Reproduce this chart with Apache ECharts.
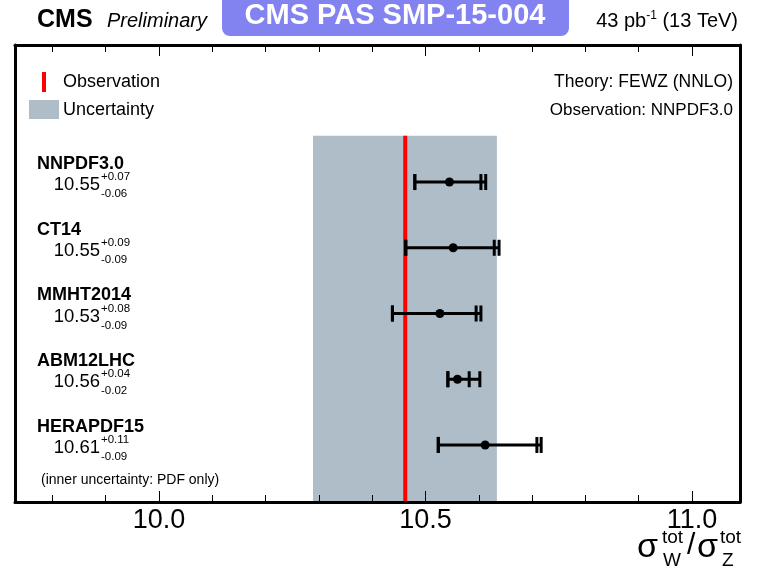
<!DOCTYPE html>
<html><head><meta charset="utf-8">
<script src="https://cdn.jsdelivr.net/npm/echarts@6/dist/echarts.min.js"></script>
<style>html,body{margin:0;padding:0;background:#fff}#c{width:762px;height:568px}</style>
</head><body><div id="c"></div>
<script>
// ---- data ----
const pdfSets     = ['NNPDF3.0', 'CT14', 'MMHT2014', 'ABM12LHC', 'HERAPDF15'];
const central     = [10.545, 10.552, 10.527, 10.560, 10.612];
const totalLow    = [10.480, 10.463, 10.438, 10.542, 10.524];
const totalHigh   = [10.613, 10.638, 10.604, 10.602, 10.717];
const pdfLow      = [10.480, 10.463, 10.438, 10.542, 10.524];
const pdfHigh     = [10.604, 10.629, 10.595, 10.582, 10.709];
const valueLabels = ['10.55', '10.55', '10.53', '10.56', '10.61'];
const plusLabels  = ['+0.07', '+0.09', '+0.08', '+0.04', '+0.11'];
const minusLabels = ['-0.06', '-0.09', '-0.09', '-0.02', '-0.09'];
const observation = 10.462;
const bandLow = 10.289;
const bandHigh = 10.634;
const xMin = 9.73, xMax = 11.09;
const majorTicks = [10.0, 10.5, 11.0];
const minorTicks = [9.8, 9.9, 10.0, 10.1, 10.2, 10.3, 10.4, 10.5, 10.6, 10.7, 10.8, 10.9, 11.0];

// ---- layout constants (row units on the hidden y axis) ----
const yMinRow = -1.085, yMaxRow = 5.868, bandTopRow = 0.295;
const FONT = "'Liberation Sans', Arial, sans-serif";

const rows = pdfSets.map((n, i) => [i + 1, central[i], totalLow[i], totalHigh[i], pdfLow[i], pdfHigh[i], i]);

const chart = echarts.init(document.getElementById('c'), null, {renderer: 'canvas'});

function xAxisBase(pos, ticks, len, withLine, withLabels) {
  return {
    type: 'value', gridIndex: 0, position: pos, min: xMin, max: xMax, z: 10,
    axisLine: {show: withLine, onZero: false, lineStyle: {color: '#000', width: 3}},
    axisTick: {show: true, inside: true, length: len, customValues: ticks, lineStyle: {color: '#000', width: 1}},
    axisLabel: withLabels ? {show: true, customValues: majorTicks, formatter: v => v.toFixed(1), color: '#000', fontSize: 27, fontFamily: FONT, margin: 5} : {show: false},
    splitLine: {show: false}
  };
}
function yAxisBase(pos) {
  return {
    type: 'value', position: pos, min: yMinRow, max: yMaxRow, inverse: true, z: 10,
    axisLine: {show: true, onZero: false, lineStyle: {color: '#000', width: 3}},
    axisTick: {show: false}, axisLabel: {show: false}, splitLine: {show: false}
  };
}

const option = {
  animation: false,
  backgroundColor: '#fff',
  grid: {left: 15, right: 22, top: 45, bottom: 66, containLabel: false},
  xAxis: [
    xAxisBase('bottom', minorTicks, 7, true, true),
    xAxisBase('bottom', majorTicks, 11, false, false),
    xAxisBase('top', minorTicks, 7, true, false),
    xAxisBase('top', majorTicks, 11, false, false)
  ],
  yAxis: [yAxisBase('left'), yAxisBase('right')],
  series: [
    {
      type: 'custom', name: 'band', xAxisIndex: 0, yAxisIndex: 0,
      data: [[observation, bandLow, bandHigh]],
      encode: {x: [0, 1, 2]},
      renderItem(params, api) {
        const p1 = api.coord([api.value(1), bandTopRow]);
        const p2 = api.coord([api.value(2), yMaxRow]);
        const o1 = api.coord([api.value(0), bandTopRow]);
        const o2 = api.coord([api.value(0), yMaxRow]);
        return {type: 'group', children: [
          {type: 'rect', shape: {x: p1[0], y: p1[1], width: p2[0] - p1[0], height: p2[1] - p1[1]}, style: {fill: '#aebdc8'}},
          {type: 'line', shape: {x1: o1[0], y1: o1[1], x2: o2[0], y2: o2[1]}, style: {stroke: '#ff0000', lineWidth: 4}}
        ]};
      }
    },
    {
      type: 'custom', name: 'predictions', xAxisIndex: 0, yAxisIndex: 0,
      data: rows,
      encode: {x: [1, 2, 3, 4, 5], y: 0},
      renderItem(params, api) {
        const r = api.value(0);
        const y = api.coord([xMin, r])[1];
        const X = v => api.coord([v, r])[0];
        const xc = X(api.value(1)), xl = X(api.value(2)), xh = X(api.value(3)), pl = X(api.value(4)), ph = X(api.value(5));
        const st = {stroke: '#000', lineWidth: 3};
        const cap = x => ({type: 'line', shape: {x1: x, y1: y - 8, x2: x, y2: y + 8}, style: st});
        return {type: 'group', children: [
          {type: 'line', shape: {x1: xl, y1: y, x2: xh, y2: y}, style: st},
          cap(xl), cap(xh), cap(pl), cap(ph),
          {type: 'circle', shape: {cx: xc, cy: y, r: 4.5}, style: {fill: '#000'}}
        ]};
      }
    },
    {
      type: 'custom', name: 'labels', xAxisIndex: 0, yAxisIndex: 0, clip: false, silent: true,
      data: rows.map(r => [r[0], r[6]]),
      encode: {y: 0},
      renderItem(params, api) {
        const r = api.value(0);
        const i = api.value(1);
        const y = api.coord([xMin, r])[1];
        const t = (text, x, yy, font, align) => ({type: 'text', x: x, y: yy,
          style: {text: text, font: font, fill: '#000', align: align || 'left', verticalAlign: 'middle', textAlign: align || 'left', textVerticalAlign: 'middle'}});
        return {type: 'group', children: [
          t(pdfSets[i], 37, y - 18, 'bold 18px ' + FONT),
          t(valueLabels[i], 100, y + 3, '18.5px ' + FONT, 'right'),
          t(plusLabels[i], 101, y - 5, '11.5px ' + FONT),
          t(minusLabels[i], 101, y + 12, '11.5px ' + FONT)
        ]};
      }
    }
  ],
  graphic: [
    // header
    {type: 'rect', shape: {x: 222, y: -10, width: 347, height: 46, r: 8}, style: {fill: '#8282f0'}},
    {type: 'text', x: 395, y: 16, style: {text: 'CMS PAS SMP-15-004', font: 'bold 29px ' + FONT, fill: '#fff', align: 'center', verticalAlign: 'middle', textAlign: 'center', textVerticalAlign: 'middle'}},
    {type: 'text', x: 37, y: 20, style: {text: 'CMS', font: 'bold 25px ' + FONT, fill: '#000', verticalAlign: 'middle', textVerticalAlign: 'middle'}},
    {type: 'text', x: 107, y: 21, style: {text: 'Preliminary', font: 'italic 20px ' + FONT, fill: '#000', verticalAlign: 'middle', textVerticalAlign: 'middle'}},
    {type: 'text', x: 738, y: 21, style: {
      text: '{a|43 pb}{s|-1}{a| (13 TeV)}', align: 'right', textAlign: 'right', verticalAlign: 'middle', textVerticalAlign: 'middle',
      rich: {a: {font: '20px ' + FONT, fill: '#000', color: '#000', lineHeight: 22}, s: {font: '12px ' + FONT, fill: '#000', color: '#000', verticalAlign: 'top', lineHeight: 12}}
    }},
    // legend
    {type: 'rect', shape: {x: 42, y: 72, width: 4, height: 20}, style: {fill: '#ff0000'}},
    {type: 'text', x: 63, y: 82, style: {text: 'Observation', font: '18px ' + FONT, fill: '#000', verticalAlign: 'middle', textVerticalAlign: 'middle'}},
    {type: 'rect', shape: {x: 29, y: 100, width: 30, height: 19}, style: {fill: '#aebdc8'}},
    {type: 'text', x: 63, y: 110, style: {text: 'Uncertainty', font: '18px ' + FONT, fill: '#000', verticalAlign: 'middle', textVerticalAlign: 'middle'}},
    {type: 'text', x: 733, y: 82, style: {text: 'Theory: FEWZ (NNLO)', font: '17.5px ' + FONT, fill: '#000', align: 'right', textAlign: 'right', verticalAlign: 'middle', textVerticalAlign: 'middle'}},
    {type: 'text', x: 733, y: 110, style: {text: 'Observation: NNPDF3.0', font: '17px ' + FONT, fill: '#000', align: 'right', textAlign: 'right', verticalAlign: 'middle', textVerticalAlign: 'middle'}},
    {type: 'text', x: 41, y: 480, style: {text: '(inner uncertainty: PDF only)', font: '14px ' + FONT, fill: '#000', verticalAlign: 'middle', textVerticalAlign: 'middle'}},
    // axis title
    {type: 'text', x: 637, y: 548, style: {text: 'σ', font: '34px ' + FONT, fill: '#000', verticalAlign: 'middle', textVerticalAlign: 'middle'}},
    {type: 'text', x: 662, y: 538, style: {text: 'tot', font: '19px ' + FONT, fill: '#000', verticalAlign: 'middle', textVerticalAlign: 'middle'}},
    {type: 'text', x: 663, y: 561, style: {text: 'W', font: '19px ' + FONT, fill: '#000', verticalAlign: 'middle', textVerticalAlign: 'middle'}},
    {type: 'text', x: 687, y: 546, style: {text: '/', font: '30px ' + FONT, fill: '#000', verticalAlign: 'middle', textVerticalAlign: 'middle'}},
    {type: 'text', x: 697, y: 548, style: {text: 'σ', font: '34px ' + FONT, fill: '#000', verticalAlign: 'middle', textVerticalAlign: 'middle'}},
    {type: 'text', x: 720, y: 538, style: {text: 'tot', font: '19px ' + FONT, fill: '#000', verticalAlign: 'middle', textVerticalAlign: 'middle'}},
    {type: 'text', x: 722, y: 561, style: {text: 'Z', font: '19px ' + FONT, fill: '#000', verticalAlign: 'middle', textVerticalAlign: 'middle'}}
  ]
};
chart.setOption(option);
</script>
</body></html>
